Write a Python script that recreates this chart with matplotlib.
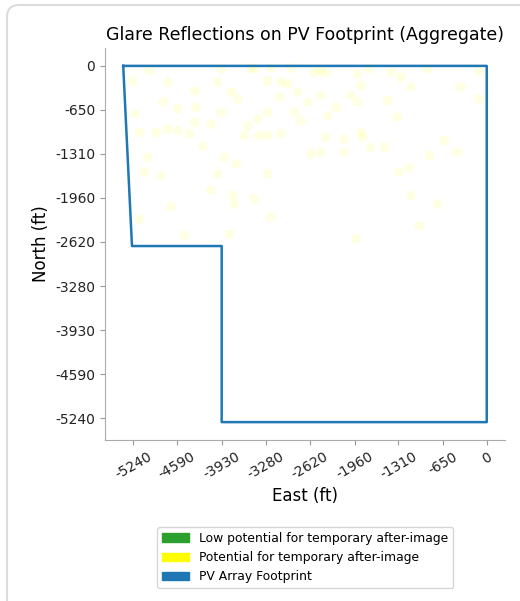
import matplotlib
matplotlib.use("Agg")
import matplotlib.pyplot as plt
from matplotlib.patches import Patch, FancyBboxPatch

# footprint outline (ft)
fp_east = [-5390, -5260, -3930, -3930, 0, 0, -5390]
fp_north = [0, -2680, -2680, -5300, -5300, 0, 0]

# glare reflection points (ft)
glare_east = [
    -5000, -5250, -4730, -4800, -5220, -4580, -4330, -4310, -5150, -4900,
    -4730, -4580, -4410, -4330, -4210, -5025, -5075, -4830, -4680, -5150,
    -4480, -4090, -3990, -3890, -3815, -3940, -3990, -3940, -3790, -3690,
    -3765, -3740, -3445, -3200, -3250, -3715, -4090, -3445, -3250, -3050,
    -3075, -2950, -3250, -3250, -3370, -3050, -3545, -3595, -3395, -2805,
    -2855, -2755, -2655, -2555, -2460, -2385, -2460, -2360, -2385, -2605,
    -2460, -2235, -2115, -2115, -2015, -1915, -1865, -1915, -1865, -1840,
    -1720, -1520, -1470, -1325, -1420, -1275, -1125, -880, -1150, -1125,
    -1000, -730, -855, -630, -435, -385, -115, -115, -1940, -1300,
    -3500, -2900, -1750, -3200,
]
glare_north = [
    -70, -220, -240, -540, -710, -640, -370, -615, -990, -990,
    -940, -960, -1010, -840, -1190, -1360, -1580, -1630, -2100, -2280,
    -2520, -1855, -1610, -1360, -2500, -690, -240, -45, -390, -490,
    -1930, -2055, -1980, -2250, -1610, -1460, -865, -45, -220, -240,
    -465, -270, -690, -1035, -1035, -1010, -890, -1035, -790, -390,
    -690, -815, -540, -95, -70, -95, -440, -740, -1060, -1310,
    -1285, -615, -1285, -1085, -440, -540, -295, -120, -985, -1060,
    -1210, -1210, -515, -765, -95, -170, -315, -45, -1510, -1930,
    -2375, -2055, -1335, -1110, -1285, -315, -70, -490, -2575, -1580,
    -30, -30, -40, -30,
]

x_ticks = [-5240, -4590, -3930, -3280, -2620, -1960, -1310, -650, 0]
y_ticks = [0, -650, -1310, -1960, -2620, -3280, -3930, -4590, -5240]

legend_labels = ["Low potential for temporary after-image",
                 "Potential for temporary after-image",
                 "PV Array Footprint"]
legend_colors = ["#2ca02c", "yellow", "#1f77b4"]

fig = plt.figure(figsize=(5.2, 6.01), dpi=100)

# light card border from the screenshot
fig.patches.append(FancyBboxPatch((0.07, -0.3), 5.6, 6.26,
                                  boxstyle="round,pad=0,rounding_size=0.12",
                                  transform=fig.dpi_scale_trans,
                                  facecolor="none", edgecolor="#dcdcdc",
                                  linewidth=1.5))

ax = fig.add_axes([0.202, 0.268, 0.769, 0.652])
ax.scatter(glare_east, glare_north, s=50, color="yellow", alpha=0.11,
           edgecolors="none")
ax.plot(fp_east, fp_north, color="#1f77b4", linewidth=1.8)

ax.set_xticks(x_ticks, [str(v) for v in x_ticks], rotation=30)
ax.set_yticks(y_ticks, [str(v) for v in y_ticks])
ax.tick_params(labelsize=10, color="#999999", labelcolor="#222222")
for s in ["top", "right"]:
    ax.spines[s].set_visible(False)
for s in ["left", "bottom"]:
    ax.spines[s].set_color("#aaaaaa")

ax.set_xlabel("East (ft)", fontsize=12)
ax.set_ylabel("North (ft)", fontsize=12)
ax.set_title("Glare Reflections on PV Footprint (Aggregate)", fontsize=12.5)

handles = [Patch(color=c) for c in legend_colors]
fig.legend(handles, legend_labels, loc="center",
           bbox_to_anchor=(0.587, 0.072), fontsize=8.9, handlelength=2.2,
           handleheight=0.7)

fig.savefig("out.png", dpi=100)
